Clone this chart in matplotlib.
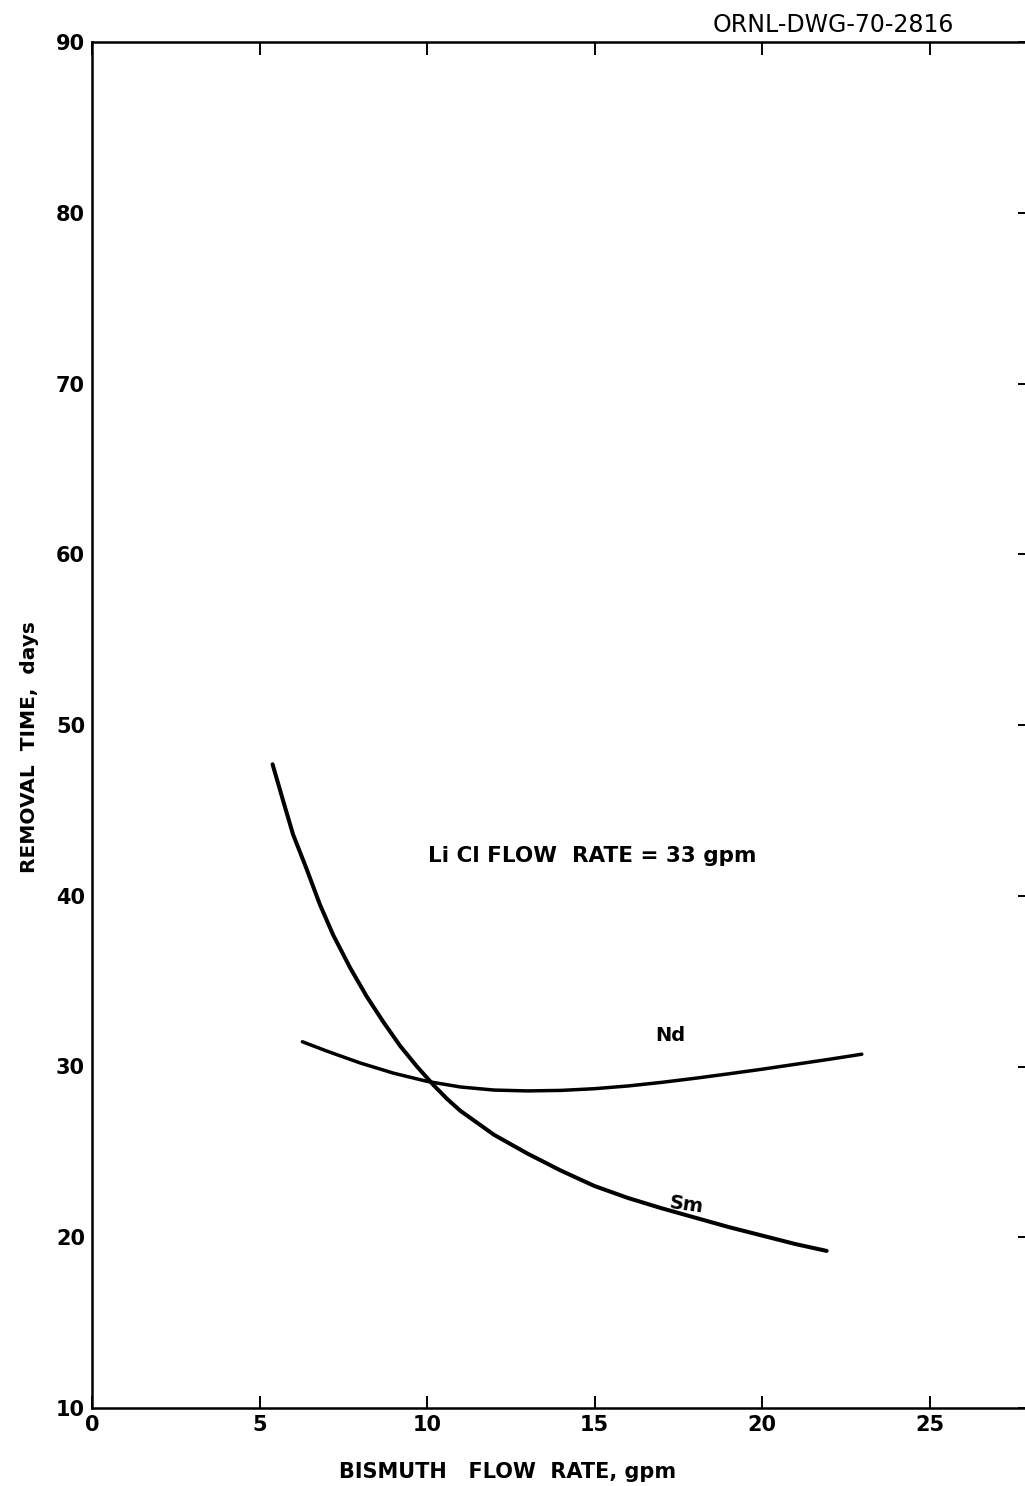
import numpy as np
import matplotlib
matplotlib.use('Agg')
from matplotlib import pyplot as plt

# removal time vs bismuth flow rate, LiCl flow rate fixed at 33 gpm
sm_flow = [5.39, 5.7, 6.0, 6.4, 6.8, 7.2, 7.7, 8.2, 8.7, 9.2, 9.7, 10.2, 10.6,
           11.0, 11.5, 12.0, 13.0, 14.0, 15.0, 16.0, 17.0, 18.0, 19.0, 20.0, 21.0, 21.93]
sm_time = [47.7, 45.6, 43.6, 41.6, 39.5, 37.7, 35.8, 34.1, 32.6, 31.2, 30.0, 28.9, 28.1,
           27.4, 26.7, 26.0, 24.9, 23.9, 23.0, 22.3, 21.7, 21.15, 20.6, 20.1, 19.6, 19.2]

nd_flow = [6.28, 7.0, 8.0, 9.0, 10.0, 11.0, 12.0, 13.0, 14.0, 15.0, 16.0,
           17.0, 18.0, 19.0, 20.0, 21.0, 22.0, 22.98]
nd_time = [31.45, 30.91, 30.21, 29.61, 29.13, 28.80, 28.62, 28.57, 28.60, 28.70, 28.86,
           29.07, 29.31, 29.57, 29.84, 30.13, 30.42, 30.72]

x_ticks = [0, 5, 10, 15, 20, 25]
y_ticks = [10, 20, 30, 40, 50, 60, 70, 80, 90]

plt.rcParams['font.family'] = ['DejaVu Sans']

W, H = 1025, 1486
fig = plt.figure(figsize=(W / 100., H / 100.), dpi=100)
fig.set_facecolor('white')

# plot frame runs a little past the right edge of the sheet
left, right, top, bottom = 92, 1030, 42, 1408
ax = fig.add_axes([left / W, (H - bottom) / H, (right - left) / W, (bottom - top) / H])

ax.plot(sm_flow, sm_time, color='black', linewidth=2.9, solid_capstyle='round')
ax.plot(nd_flow, nd_time, color='black', linewidth=2.5, solid_capstyle='round')

ax.set_xlim(0, 28)
ax.set_ylim(10, 90)
ax.set_xticks(x_ticks)
ax.set_yticks(y_ticks)

for s in ax.spines.values():
    s.set_linewidth(1.8)

ax.tick_params(axis='x', direction='in', length=9, width=1.4, top=True, bottom=True,
               labelsize=15, pad=5)
ax.tick_params(axis='y', direction='in', length=8.5, width=1.4, left=True, right=True,
               labelsize=15, pad=5)
# only the right frame carries y ticks
for tk in ax.yaxis.get_major_ticks():
    tk.tick1line.set_visible(False)
for lbl in ax.get_xticklabels() + ax.get_yticklabels():
    lbl.set_fontweight('bold')

ax.set_xlabel('BISMUTH   FLOW  RATE, gpm', fontsize=15, fontweight='bold')
ax.xaxis.set_label_coords((508 - left) / (right - left), (bottom - 1472) / (bottom - top))
ax.set_ylabel('REMOVAL  TIME,  days', fontsize=14.5, fontweight='bold')
ax.yaxis.set_label_coords((30 - left) / (right - left), (bottom - 747) / (bottom - top))
ax.xaxis.label.set_va('center')
ax.yaxis.label.set_va('center')

ax.text(17.74, 21.9, 'Sm', fontsize=14, fontweight='bold', ha='center', va='center',
        rotation=-8)
ax.text(17.26, 31.8, 'Nd', fontsize=14, fontweight='bold', ha='center', va='center')
ax.text(14.94, 42.3, 'Li Cl FLOW  RATE = 33 gpm', fontsize=15.5, fontweight='bold',
        ha='center', va='center')

fig.text(833 / W, 1 - 25 / H, 'ORNL-DWG-70-2816', fontsize=17, ha='center', va='center')

fig.savefig('out.png', dpi=100, facecolor='white')
